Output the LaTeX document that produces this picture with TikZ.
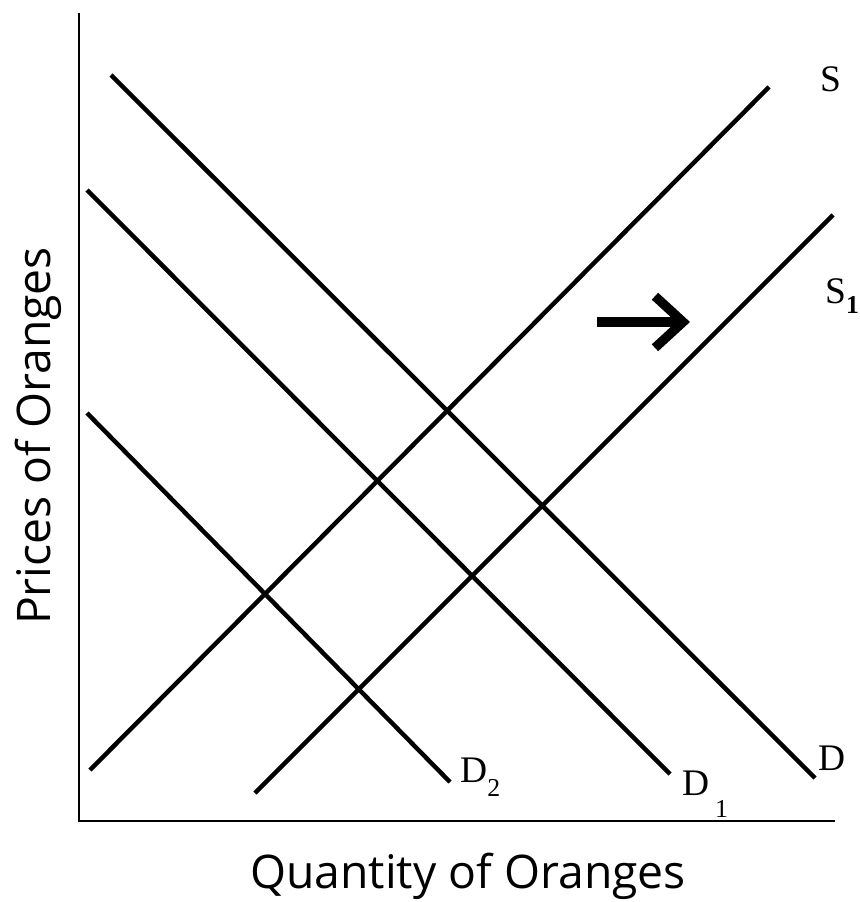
\documentclass[tikz,border=0pt]{standalone}
\usepackage{fontspec}
\setmainfont{Liberation Serif}
\newfontfamily\axisfont{Open Sans}
\usetikzlibrary{arrows.meta,positioning}

\begin{document}
\begin{tikzpicture}[x=0.03cm, y=-0.03cm,
    axe/.style={draw=black, line width=1.7pt},
    courbe/.style={draw=black, line width=3.8pt},
    fleche/.style={draw=black, line width=8pt,
      -{Straight Barb[length=24pt, width=44pt]}},
    etiquette/.style={font=\fontsize{32}{36}\selectfont, inner sep=0pt},
    titre/.style={font=\axisfont\fontsize{39.5}{44}\selectfont, inner sep=0pt}
  ]
    \useasboundingbox (0,0) rectangle (859,902);
    % axes
    \coordinate (haut) at (79,13);
    \coordinate (origine) at (79,821);
    \coordinate (droite) at (835,821);
    \draw[axe] (haut) -- (origine) -- (droite);
    \node[titre, anchor=base] (quantite) at (468,888) {Quantity of Oranges};
    \node[titre, anchor=base, rotate=90] (prix) at (50,436) {Prices of Oranges};
    % offre
    \coordinate (S-bas) at (90,770);
    \coordinate (S-haut) at (769,87);
    \coordinate (S1-bas) at (255,793);
    \coordinate (S1-haut) at (833,215);
    \draw[courbe] (S-bas) -- (S-haut);
    \draw[courbe] (S1-bas) -- (S1-haut);
    % demande
    \coordinate (D-haut) at (111,75);
    \coordinate (D-bas) at (815,778);
    \coordinate (D1-haut) at (87,190);
    \coordinate (D1-bas) at (670,774);
    \coordinate (D2-haut) at (87,413);
    \coordinate (D2-bas) at (450,782);
    \draw[courbe] (D-haut) -- (D-bas);
    \draw[courbe] (D1-haut) -- (D1-bas);
    \draw[courbe] (D2-haut) -- (D2-bas);
    % etiquettes
    \node[etiquette, anchor=base west] (lS) at (820,92) {S};
    \node[etiquette, anchor=base west] (lS1) at (825,303)
      {S\raisebox{-9pt}{\fontsize{22}{24}\selectfont\bfseries 1}};
    \node[etiquette, anchor=base west] (lD) at (818,770) {D};
    \node[etiquette, anchor=base west] (lD1) at (682,795)
      {D\hspace{5pt}\raisebox{-19pt}{\fontsize{22}{24}\selectfont 1}};
    \node[etiquette, anchor=base west] (lD2) at (460,782)
      {D\raisebox{-12pt}{\fontsize{22}{24}\selectfont 2}};
    % deplacement de l'offre
    \coordinate (f-dep) at (597,322);
    \coordinate (f-arr) at (690,322);
    \draw[fleche] (f-dep) -- (f-arr);
  \end{tikzpicture}
\end{document}
